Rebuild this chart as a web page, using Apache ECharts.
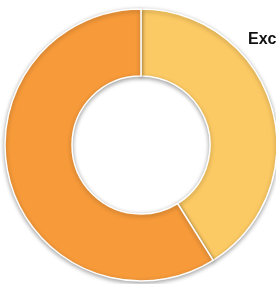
<!DOCTYPE html>
<html>
<head>
<meta charset="utf-8">
<script src="https://cdn.jsdelivr.net/npm/echarts@6/dist/echarts.min.js"></script>
<style>
  html, body { margin: 0; padding: 0; background: #fff; }
  #chart { width: 276px; height: 284px; }
</style>
</head>
<body>
<div id="chart"></div>
<script>
// slice data
var names = ['Excellent', 'Other'];
var values = [41.1, 58.9];
var colors = ['#FCCA64', '#F69A3A'];

var chart = echarts.init(document.getElementById('chart'));

var option = {
  animation: false,
  backgroundColor: '#ffffff',
  title: {
    text: 'Excellent',
    left: 248,
    top: 32,
    padding: 0,
    textStyle: {
      fontFamily: 'Liberation Sans',
      fontWeight: 'bold',
      fontSize: 16,
      color: '#111'
    }
  },
  series: [{
    type: 'pie',
    center: [141, 145],
    radius: [69, 136],
    startAngle: 90,
    clockwise: true,
    label: { show: false },
    labelLine: { show: false },
    silent: true,
    itemStyle: {
      borderColor: '#fff',
      borderWidth: 1.5,
      shadowBlur: 4,
      shadowOffsetY: 1.5,
      shadowColor: 'rgba(0,0,0,0.35)'
    },
    data: names.map(function (n, i) {
      return { name: n, value: values[i], itemStyle: { color: colors[i] } };
    })
  }]
};

chart.setOption(option);
</script>
</body>
</html>
